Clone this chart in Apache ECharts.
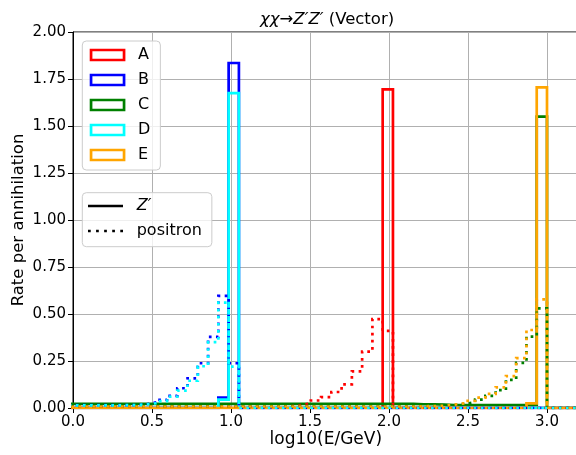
<!DOCTYPE html>
<html><head><meta charset="utf-8">
<script src="https://cdn.jsdelivr.net/npm/echarts@6/dist/echarts.min.js"></script>
<style>html,body{margin:0;padding:0;background:#fff}#c{width:576px;height:455px}</style>
</head><body><div id="c"></div>
<script>
// Histogram binning (log10 E/GeV)
const binStart = -0.055;
const binWidth = 0.065;
const nBins = 50;

const modelNames = ['A', 'B', 'C', 'D', 'E'];
const modelColors = ['#ff0000', '#0000ff', '#008000', '#00ffff', '#ffa500'];

// Z' spectra (rate per annihilation per bin)
const zprimeA = [
  0,0,0,0,0,0,0,0,0,0,
  0,0,0,0,0,0,0,0,0,0,
  0,0,0,0,0,0,0,0,0,0,
  0,1.695,0,0,0,0,0,0,0,0,
  0,0,0,0,0,0,0,0,0,0];
const zprimeB = [
  0,0,0,0,0,0,0,0,0,0,
  0,0,0,0,0,0.055,1.835,0,0,0,
  0,0,0,0,0,0,0,0,0,0,
  0,0,0,0,0,0,0,0,0,0,
  0,0,0,0,0,0,0,0,0,0];
const zprimeC = [
  0.022,0.022,0.022,0.022,0.022,0.022,0.022,0.022,0.022,0.022,
  0.022,0.022,0.022,0.022,0.022,0.022,0.022,0.022,0.022,0.022,
  0.022,0.022,0.022,0.022,0.022,0.022,0.022,0.022,0.022,0.022,
  0.022,0.022,0.022,0.022,0.02,0.02,0.018,0.016,0.016,0.016,
  0.016,0.016,0.016,0.016,0.016,0.016,1.55,0,0,0];
const zprimeD = [
  0,0,0,0,0,0,0,0,0,0,
  0,0,0,0,0,0.045,1.675,0,0,0,
  0,0,0,0,0,0,0,0,0,0,
  0,0,0,0,0,0,0,0,0,0,
  0,0,0,0,0,0,0,0,0,0];
const zprimeE = [
  0,0,0,0,0,0,0,0,0,0,
  0,0,0,0,0,0,0,0,0,0,
  0,0,0,0,0,0,0,0,0,0,
  0,0,0,0,0,0,0,0,0,0,
  0,0,0,0,0,0.025,1.705,0,0,0];

// positron spectra
const positronA = [
  0.008,0.008,0.008,0.008,0.008,0.008,0.008,0.008,0.008,0.008,
  0.008,0.008,0.008,0.008,0.008,0.008,0.008,0.008,0.008,0.008,
  0.008,0.01,0.015,0.025,0.04,0.058,0.085,0.126,0.195,0.30,
  0.473,0.41,0,0,0,0,0,0,0,0,
  0,0,0,0,0,0,0,0,0,0];
const positronB = [
  0.015,0.015,0.015,0.015,0.015,0.015,0.016,0.02,0.03,0.043,
  0.065,0.105,0.158,0.238,0.378,0.596,0.238,0,0,0,
  0,0,0,0,0,0,0,0,0,0,
  0,0,0,0,0,0,0,0,0,0,
  0,0,0,0,0,0,0,0,0,0];
const positronC = [
  0.01,0.01,0.01,0.01,0.01,0.01,0.01,0.01,0.01,0.01,
  0.01,0.01,0.01,0.01,0.01,0.01,0.01,0.01,0.01,0.01,
  0.01,0.01,0.01,0.01,0.01,0.01,0.01,0.01,0.01,0.01,
  0.01,0.01,0.01,0.01,0.01,0.011,0.012,0.016,0.022,0.03,
  0.045,0.065,0.095,0.15,0.24,0.38,0.53,0,0,0];
const positronD = [
  0.014,0.014,0.014,0.014,0.014,0.015,0.016,0.019,0.026,0.037,
  0.06,0.092,0.145,0.222,0.35,0.56,0.22,0,0,0,
  0,0,0,0,0,0,0,0,0,0,
  0,0,0,0,0,0,0,0,0,0,
  0,0,0,0,0,0,0,0,0,0];
const positronE = [
  0.008,0.008,0.008,0.008,0.008,0.008,0.008,0.008,0.008,0.008,
  0.008,0.008,0.008,0.008,0.008,0.008,0.008,0.008,0.008,0.008,
  0.008,0.008,0.008,0.008,0.008,0.008,0.008,0.008,0.008,0.008,
  0.008,0.008,0.008,0.008,0.009,0.01,0.012,0.018,0.025,0.038,
  0.055,0.075,0.11,0.17,0.265,0.415,0.578,0,0,0];

const zprimeSets = [zprimeA, zprimeB, zprimeC, zprimeD, zprimeE];
const positronSets = [positronA, positronB, positronC, positronD, positronE];

const titleText = '{i|χχ}→{i|Z′Z′} (Vector)';
const xName = 'log10(E/GeV)';
const yName = 'Rate per annihilation';
const xRange = [0, 3.2], xStep = 0.5;
const yRange = [0, 2.0], yStep = 0.25;

const edges = [];
for (let i = 0; i <= nBins; i++) edges.push(+(binStart + i * binWidth).toFixed(4));

function stepData(vals) {
  const d = [[edges[0], 0]];
  vals.forEach((v, i) => d.push([edges[i], v]));
  d.push([edges[vals.length], vals[vals.length - 1]]);
  d.push([edges[vals.length], 0]);
  return d;
}

const LW = 2.7;
const series = [];
zprimeSets.forEach((vals, k) => {
  series.push({
    name: modelNames[k], type: 'line', step: 'end', data: stepData(vals),
    symbol: 'none', animation: false,
    lineStyle: { color: modelColors[k], width: LW, join: 'miter' },
    itemStyle: { color: modelColors[k] }
  });
});
positronSets.forEach((vals, k) => {
  series.push({
    name: modelNames[k] + ' positron', type: 'line', step: 'end', data: stepData(vals),
    symbol: 'none', animation: false,
    lineStyle: { color: modelColors[k], width: LW, type: [LW, 4.4], cap: 'butt', join: 'miter' },
    itemStyle: { color: modelColors[k] }
  });
});
series.push({ name: 'Z′', type: 'line', data: [], symbol: 'none', lineStyle: { color: '#000', width: LW }, itemStyle: { color: '#000' } });
series.push({ name: 'positron', type: 'line', data: [], symbol: 'none', lineStyle: { color: '#000', width: LW, type: [LW, 4.4] }, itemStyle: { color: '#000' } });

const FONT = 'DejaVu Sans';
const gridLeft = 73, gridTop = 32, gridBottomPx = 408;
const pxPerUnit = 158;
const gridWidth = (xRange[1] - xRange[0]) * pxPerUnit;

const chart = echarts.init(document.getElementById('c'), null, { renderer: 'canvas' });
chart.setOption({
  animation: false,
  backgroundColor: '#fff',
  textStyle: { fontFamily: FONT },
  title: {
    text: titleText, left: 255, top: 6,
    textStyle: {
      fontFamily: FONT, fontSize: 16.5, fontWeight: 'normal', color: '#000',
      rich: { i: { fontFamily: FONT, fontStyle: 'italic', fontSize: 16.5, color: '#000' } }
    }
  },
  grid: {
    left: gridLeft, top: gridTop, width: gridWidth, height: gridBottomPx - gridTop,
    outerBoundsMode: 'none', containLabel: false,
    show: true, borderColor: '#000', borderWidth: 1, backgroundColor: 'transparent'
  },
  xAxis: {
    type: 'value', min: xRange[0], max: xRange[1], interval: xStep,
    name: xName, nameLocation: 'middle', nameGap: 23, nameMoveOverlap: false,
    nameTextStyle: { fontFamily: FONT, fontSize: 17, color: '#000' },
    axisLine: { show: true, lineStyle: { color: '#000', width: 1 } },
    axisTick: { show: true, length: 5, lineStyle: { color: '#000', width: 1 } },
    axisLabel: { show: true, margin: 7, fontFamily: FONT, fontSize: 15, color: '#000',
      showMaxLabel: false, formatter: v => v.toFixed(1) },
    splitLine: { show: true, lineStyle: { color: '#b0b0b0', width: 1 } }
  },
  yAxis: {
    type: 'value', min: yRange[0], max: yRange[1], interval: yStep,
    name: yName, nameLocation: 'middle', nameGap: 46, nameMoveOverlap: false,
    nameTextStyle: { fontFamily: FONT, fontSize: 16.5, color: '#000' },
    axisLine: { show: true, lineStyle: { color: '#000', width: 1 } },
    axisTick: { show: true, length: 5, lineStyle: { color: '#000', width: 1 } },
    axisLabel: { show: true, margin: 7, fontFamily: FONT, fontSize: 15, color: '#000',
      formatter: v => v.toFixed(2) },
    splitLine: { show: true, lineStyle: { color: '#b0b0b0', width: 1 } }
  },
  legend: [
    {
      orient: 'vertical', left: 82.3, top: 41,
      padding: [6, 10, 7, 7.4], itemWidth: 33, itemHeight: 10, itemGap: 9,
      backgroundColor: 'rgba(255,255,255,0.8)', borderColor: '#cccccc', borderWidth: 1, borderRadius: 4,
      textStyle: { fontFamily: FONT, fontSize: 16, lineHeight: 16, color: '#000', padding: [0, 0, 0, 9] },
      selectedMode: false,
      data: modelNames.map((n, k) => ({
        name: n, icon: 'rect',
        itemStyle: { color: '#ffffff', borderColor: modelColors[k], borderWidth: LW }
      }))
    },
    {
      orient: 'vertical', left: 82.3, top: 192.7,
      padding: [5.3, 10, 7.7, 5.7], itemWidth: 35, itemHeight: 10, itemGap: 9,
      backgroundColor: 'rgba(255,255,255,0.8)', borderColor: '#cccccc', borderWidth: 1, borderRadius: 4,
      textStyle: { fontFamily: FONT, fontSize: 16, lineHeight: 16, color: '#000', padding: [0, 0, 0, 8.7],
        rich: { i: { fontFamily: FONT, fontStyle: 'italic', fontSize: 16, lineHeight: 16, color: '#000' } } },
      formatter: n => n === 'Z′' ? '{i|Z′}' : n,
      selectedMode: false,
      data: [
        { name: 'Z′', icon: 'path://M0,0H35V2.7H0Z', itemStyle: { color: '#000', borderWidth: 0 } },
        { name: 'positron', icon: 'path://M0,0h2.7v2.7h-2.7z M8,0h2.7v2.7h-2.7z M16,0h2.7v2.7h-2.7z M24,0h2.7v2.7h-2.7z M32,0h2.7v2.7h-2.7z', itemStyle: { color: '#000', borderWidth: 0 } }
      ]
    }
  ],
  series: series
});
</script></body></html>
